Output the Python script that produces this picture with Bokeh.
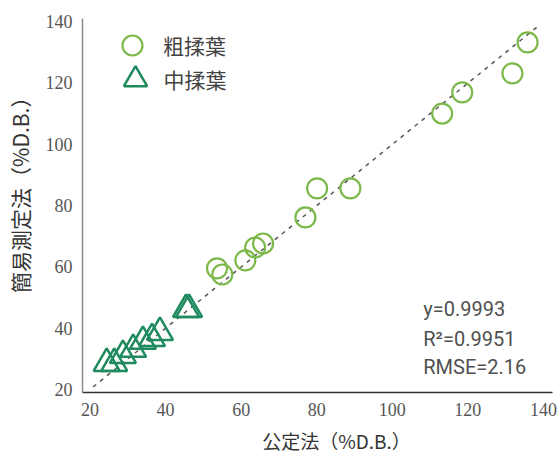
from bokeh.plotting import figure
from bokeh.models import (Range1d, FixedTicker, Legend, LegendItem, Label)
from bokeh.embed import file_html
from bokeh.resources import INLINE

# ---- data ----
coarse_x = [53.6, 55.0, 61.1, 63.7, 65.8, 77.0, 80.1, 88.9, 113.2, 118.5, 131.8, 135.8]
coarse_y = [59.5, 57.5, 62.1, 66.3, 67.6, 76.1, 85.6, 85.6, 110.0, 116.9, 123.1, 133.2]
medium_x = [24.4, 26.4, 28.7, 31.4, 34.0, 36.4, 38.5, 45.4, 46.2]
medium_y = [28.5, 28.5, 31.1, 33.1, 35.7, 36.6, 38.6, 46.1, 46.1]
fit_slope = 0.9993
fit_x = [20.8, 138.7]
fit_y = [fit_slope * v for v in fit_x]
ticks = [20, 40, 60, 80, 100, 120, 140]
series_names = ["粗揉葉", "中揉葉"]
x_title = "公定法（%D.B.）"
y_title = "簡易測定法（%D.B.）"
stats_lines = ["y=0.9993", "R²=0.9951", "RMSE=2.16"]

p = figure(width=558, height=461, output_backend="svg", toolbar_location=None,
           x_range=Range1d(18.0, 142.4), y_range=Range1d(19.0, 141.0),
           min_border_left=82, min_border_right=6, min_border_top=18,
           min_border_bottom=69)
p.outline_line_color = None
p.xgrid.visible = False
p.ygrid.visible = False
p.background_fill_color = "white"
p.border_fill_color = "white"

for ax in (p.xaxis[0], p.yaxis[0]):
    ax.ticker = FixedTicker(ticks=ticks)
    ax.major_tick_line_color = None
    ax.minor_tick_line_color = None
    ax.major_tick_out = 0
    ax.major_tick_in = 0
    ax.minor_tick_out = 0
    ax.minor_tick_in = 0
    ax.major_label_text_font = "Liberation Serif"
    ax.major_label_text_font_size = "18px"
    ax.major_label_text_color = "#555555"
    ax.axis_label_text_font = "Noto Sans CJK JP"
    ax.axis_label_text_font_style = "normal"
    ax.axis_label_text_color = "#333333"

p.xaxis.axis_line_color = "#333333"
p.xaxis.axis_line_width = 1.5
p.yaxis.axis_line_color = "#8a8a8a"
p.yaxis.axis_line_width = 1.5
p.xaxis.major_label_standoff = 10
p.yaxis.major_label_standoff = 10
# leading spaces shift the centred titles (right / up), as in the original
p.xaxis.axis_label = "\u3000\u3000" + x_title
p.yaxis.axis_label = "\u3000\u2002" + y_title
p.xaxis.axis_label_text_font_size = "19px"
p.yaxis.axis_label_text_font_size = "21px"
p.xaxis.axis_label_standoff = 8
p.yaxis.axis_label_standoff = 8

p.line(fit_x, fit_y, line_color="#555555", line_width=1.5, line_dash="4 5")

r_c = p.scatter(coarse_x, coarse_y, marker="circle", size=20, fill_alpha=0,
                line_color="#7db94a", line_width=2.2)
r_t = p.scatter(medium_x, medium_y, marker="triangle", size=26, fill_alpha=0,
                line_color="#1f8a5e", line_width=2.5)

common = dict(padding=0, margin=0, label_text_font="Noto Sans CJK JP",
              label_text_font_size="21px", label_text_color="#444444",
              background_fill_alpha=0, border_line_alpha=0)
leg1 = Legend(items=[LegendItem(label=series_names[0], renderers=[r_c])],
              location=(25, 322), glyph_width=50, glyph_height=50,
              label_standoff=6, **common)
leg2 = Legend(items=[LegendItem(label=series_names[1], renderers=[r_t])],
              location=(23.5, 284), glyph_width=58, glyph_height=58,
              label_standoff=0, **common)
p.add_layout(leg1)
p.add_layout(leg2)

for txt, yv in zip(stats_lines, [46.4, 36.6, 27.2]):
    p.add_layout(Label(x=108.2, y=yv, text=txt, text_font="Roboto",
                       text_font_size="20px", text_color="#505050",
                       text_baseline="middle", text_align="left"))

open("out.html", "w").write(file_html(p, INLINE))
